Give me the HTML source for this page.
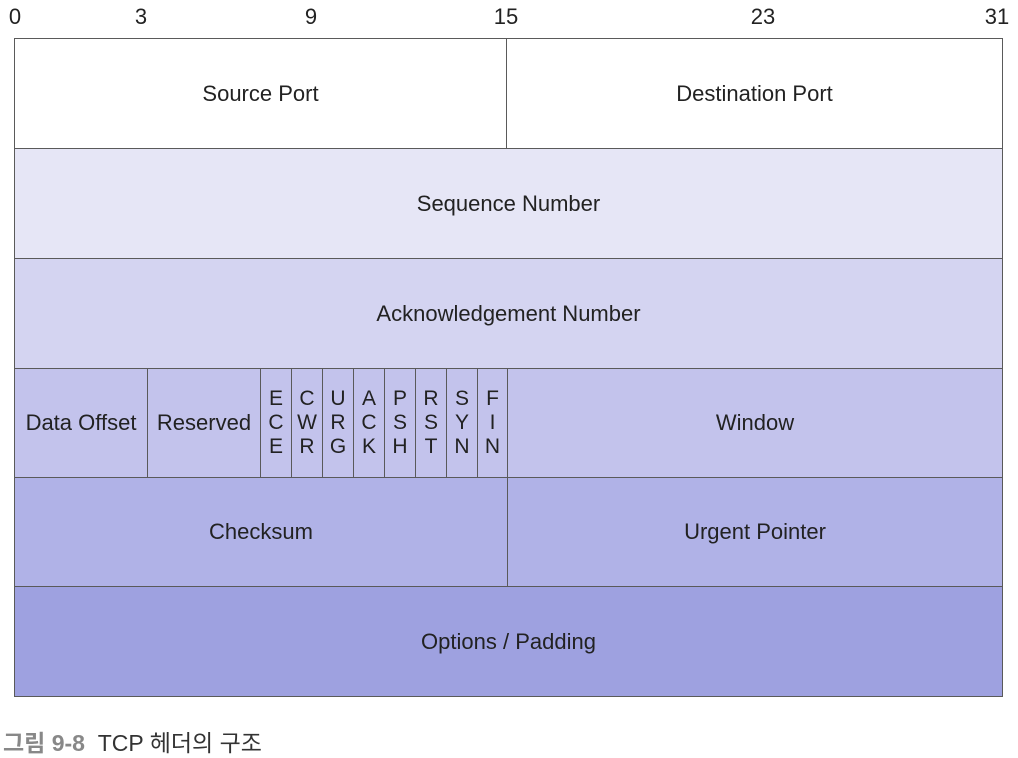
<!DOCTYPE html>
<html><head><meta charset="utf-8"><style>
body{margin:0;width:1018px;height:756px;background:#fff;position:relative;overflow:hidden;font-family:"Liberation Sans","Noto Sans CJK KR",sans-serif;color:#222}
.c{position:absolute;box-sizing:border-box;border:1px solid #5a5a5a;display:flex;align-items:center;justify-content:center;font-size:22px;text-align:center}
.n{position:absolute;top:4px;font-size:22px;transform:translateX(-50%)}
.f{font-size:21px;line-height:24px}
</style></head><body>
<div class="n" style="left:15px">0</div>
<div class="n" style="left:141px">3</div>
<div class="n" style="left:311px">9</div>
<div class="n" style="left:506px">15</div>
<div class="n" style="left:763px">23</div>
<div class="n" style="left:997px">31</div>

<div class="c" style="left:14px;top:38px;width:493px;height:111px;background:#fff">Source Port</div>
<div class="c" style="left:506px;top:38px;width:497px;height:111px;background:#fff">Destination Port</div>
<div class="c" style="left:14px;top:148px;width:989px;height:111px;background:#e6e6f6">Sequence Number</div>
<div class="c" style="left:14px;top:258px;width:989px;height:111px;background:#d4d4f1">Acknowledgement Number</div>

<div class="c" style="left:14px;top:368px;width:134px;height:110px;background:#c3c3ec">Data Offset</div>
<div class="c" style="left:147px;top:368px;width:114px;height:110px;background:#c3c3ec">Reserved</div>
<div class="c f" style="left:260px;top:368px;width:32px;height:110px;background:#c3c3ec">E<br>C<br>E</div>
<div class="c f" style="left:291px;top:368px;width:32px;height:110px;background:#c3c3ec">C<br>W<br>R</div>
<div class="c f" style="left:322px;top:368px;width:32px;height:110px;background:#c3c3ec">U<br>R<br>G</div>
<div class="c f" style="left:353px;top:368px;width:32px;height:110px;background:#c3c3ec">A<br>C<br>K</div>
<div class="c f" style="left:384px;top:368px;width:32px;height:110px;background:#c3c3ec">P<br>S<br>H</div>
<div class="c f" style="left:415px;top:368px;width:32px;height:110px;background:#c3c3ec">R<br>S<br>T</div>
<div class="c f" style="left:446px;top:368px;width:32px;height:110px;background:#c3c3ec">S<br>Y<br>N</div>
<div class="c f" style="left:477px;top:368px;width:31px;height:110px;background:#c3c3ec">F<br>I<br>N</div>
<div class="c" style="left:507px;top:368px;width:496px;height:110px;background:#c3c3ec">Window</div>

<div class="c" style="left:14px;top:477px;width:494px;height:110px;background:#b0b2e7">Checksum</div>
<div class="c" style="left:507px;top:477px;width:496px;height:110px;background:#b0b2e7">Urgent Pointer</div>
<div class="c" style="left:14px;top:586px;width:989px;height:111px;background:#9ea1e0">Options / Padding</div>

<div style="position:absolute;left:3px;top:724px;font-size:23px;white-space:nowrap"><b style="color:#888">그림 9-8</b>&nbsp; <span style="color:#333">TCP 헤더의 구조</span></div>
</body></html>
